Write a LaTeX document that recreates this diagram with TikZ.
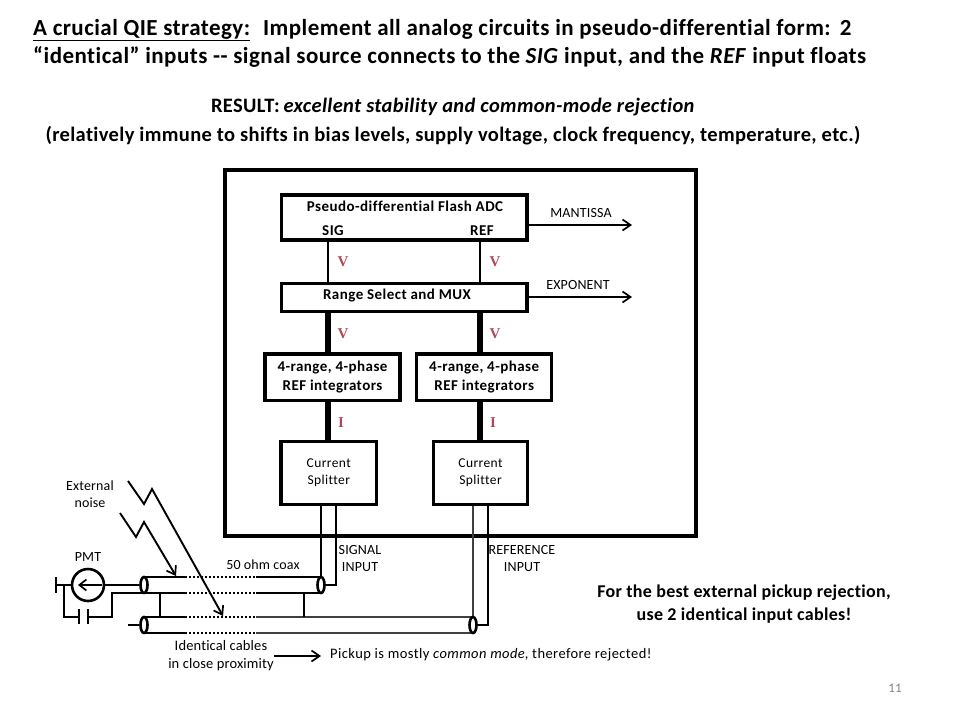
\documentclass[tikz,border=0pt]{standalone}
\usepackage{fontspec}
\setmainfont{Carlito}
\newfontfamily\vfont{Liberation Serif}
\newfontfamily\headf[LetterSpace=2,Ligatures=NoCommon]{Carlito}
\newfontfamily\resf[LetterSpace=1.7,Ligatures=NoCommon]{Carlito}
\newfontfamily\smf[LetterSpace=3,Ligatures=NoCommon]{Carlito}
\newfontfamily\labf[LetterSpace=1,Ligatures=NoCommon]{Carlito}
\usetikzlibrary{arrows.meta,shapes.geometric}
\definecolor{redv}{HTML}{B04A55}
\tikzset{
  x=1pt,y=-1pt,
  box/.style={draw=black,line width=3.2pt,fill=white,inner sep=0pt,align=center,font=\fontsize{15}{19}\selectfont\smf\bfseries},
  wire/.style={line width=2pt,draw=black},
  fatwire/.style={line width=6pt,draw=black},
  arr/.style={line width=1.9pt,draw=black,-{Straight Barb[length=8pt,width=11pt,line width=1.7pt]}},
  lab/.style={inner sep=0pt,align=center,font=\fontsize{14}{17}\selectfont\labf},
  blab/.style={inner sep=0pt,align=center,font=\fontsize{15}{19}\selectfont\smf\bfseries},
  vlab/.style={inner sep=0pt,text=redv,font=\fontsize{15}{15}\selectfont\vfont\bfseries},
  head/.style={inner sep=0pt,font=\fontsize{23}{27}\selectfont\headf\bfseries,anchor=base west},
  res/.style={inner sep=0pt,font=\fontsize{20.5}{25}\selectfont\resf\bfseries,anchor=base},
  cableend/.style={draw=black,line width=2.6pt,fill=white,ellipse,minimum width=7pt,minimum height=16pt,inner sep=0pt},
  greywire/.style={line width=2pt,draw=black!75},
  dots/.style={line width=2pt,draw=black,dash pattern=on 2pt off 2pt},
}
\begin{document}
\begin{tikzpicture}
\useasboundingbox (0,0) rectangle (960,720);
% heading
\node[head] (t1) at (33,35) {\underline{A crucial QIE strategy:}\hspace{13pt}Implement all analog circuits in pseudo-differential form:\hspace{9pt}2};
\node[head] (t2) at (33,63) {“identical” inputs -{}- signal source connects to the \textit{SIG} input, and the \textit{REF} input floats};
\node[res] (r1) at (453,112) {RESULT:\hspace{4pt}\textit{excellent stability and common-mode rejection}};
\node[res] (r2) at (453,141) {(relatively immune to shifts in bias levels, supply voltage, clock frequency, temperature, etc.)};
% outer
\node[draw=black,line width=3.6pt,minimum width=471pt,minimum height=366pt,inner sep=0pt] (outer) at (460.5,353) {};
% blocks
\node[box,minimum width=245.5pt,minimum height=45pt] (adc) at (404.2,217.5) {};
\node[blab] (adct) at (405,206) {Pseudo-differential Flash ADC};
\node[blab] (sig) at (333,231) {SIG};
\node[blab] (ref) at (482,231) {REF};
\node[box,minimum width=245.5pt,minimum height=28.5pt] (mux) at (404.2,297.5) {};
\node[blab] (muxt) at (397,295.5) {Range Select and MUX};
\node[box,minimum width=135pt,minimum height=46.8pt] (int1) at (332.5,377.3) {4-range, 4-phase\\REF integrators};
\node[box,minimum width=135pt,minimum height=46.8pt] (int2) at (484.2,377.3) {4-range, 4-phase\\REF integrators};
\node[box,minimum width=95.8pt,minimum height=62.8pt,font=\fontsize{13.5}{17}\selectfont\smf] (cs1) at (328.8,473) {Current\\Splitter};
\node[box,minimum width=94.4pt,minimum height=62.8pt,font=\fontsize{13.5}{17}\selectfont\smf] (cs2) at (480.5,473) {Current\\Splitter};
% internal links
\draw[wire] (328,241) -- (328,282);
\draw[wire] (480,241) -- (480,282);
\draw[fatwire] (328,313) -- (328,353);
\draw[fatwire] (480,313) -- (480,353);
\draw[fatwire] (328,402) -- (328,441);
\draw[fatwire] (480,402) -- (480,441);
\node[vlab] (v1) at (343,262) {V};
\node[vlab] (v2) at (495,262) {V};
\node[vlab] (v3) at (343,334) {V};
\node[vlab] (v4) at (495,334) {V};
\node[vlab] (i1) at (341,423) {I};
\node[vlab] (i2) at (493,423) {I};
% outputs
\coordinate (mo) at (632,225);
\coordinate (eo) at (632,297);
\draw[arr] (adc.east |- mo) -- (mo);
\draw[arr] (mux.east |- eo) -- (eo);
\node[lab] (man) at (581,213) {MANTISSA};
\node[lab] (exp) at (578,285) {EXPONENT};
% cables
\coordinate (c1l) at (144,585); \coordinate (c1r) at (321,585);
\coordinate (c2l) at (144,625); \coordinate (c2r) at (473,625);
\draw[wire] (144,577) -- (185,577); \draw[dots] (185,577) -- (256,577); \draw[wire] (256,577) -- (320,577);
\draw[wire] (144,593) -- (185,593); \draw[dots] (185,593) -- (256,593); \draw[wire] (256,593) -- (320,593);
\draw[wire] (144,617) -- (185,617); \draw[dots] (185,617) -- (256,617); \draw[greywire] (256,617) -- (472,617);
\draw[wire] (144,633) -- (185,633); \draw[dots] (185,633) -- (256,633); \draw[greywire] (256,633) -- (472,633);
% braids
\draw[wire] (160,593) -- (160,617);
\draw[wire] (304,593) -- (304,617);
% signal conductors
\draw[wire] (c1r |- cs1.south) -- (c1r);
\draw[wire] (336,505) |- (c1r);
\draw[greywire] (c2r |- cs2.south) -- (c2r);
\draw[wire] (488,505) |- (c2r);
\node[cableend] (e1l) at (c1l) {};
\node[cableend] (e1r) at (c1r) {};
\node[cableend] (e2l) at (c2l) {};
\node[cableend] (e2r) at (c2r) {};
\coordinate (stub) at (128,625);
\draw[wire] (stub) -- (e2l);
% PMT
\node[draw=black,line width=2.6pt,circle,minimum size=32pt,inner sep=0pt] (pmt) at (88,585) {};
\draw[line width=1.8pt,-{Straight Barb[length=7pt,width=11pt,line width=1.7pt]}] (102,585) -- (78,585);
\draw[wire] (pmt.east) -- (e1l);
\coordinate (bar) at (56,585);
\draw[wire] (pmt.west) -- (bar);
\draw[wire] (56,577) -- (56,593);
\draw[wire] (64,585) -- (64,617) -- (79,617);
\draw[wire] (79,609) -- (79,624);
\draw[wire] (88,609) -- (88,624);
\draw[wire] (88,617) -- (112,617) -- (112,593) -- (144,593);
% noise bolts
\draw[arr,line join=miter] (128,481) -- (144,504) -- (152,489) -- (223,616);
\draw[arr,line join=miter] (120,513) -- (136,537) -- (144,522) -- (176,576);
% labels
\node[lab] (en) at (90,494) {External\\noise};
\node[lab] (pl) at (88,557) {PMT};
\node[lab] (cx) at (263,565) {50 ohm coax};
\node[lab] (si) at (360,558) {SIGNAL\\INPUT};
\node[lab] (ri) at (522,558) {REFERENCE\\INPUT};
\node[inner sep=0pt,align=center,font=\fontsize{14.5}{18}\selectfont\labf] (ic) at (221,655.5) {Identical cables\\in close proximity};
\node[inner sep=0pt,anchor=west,font=\fontsize{14.5}{18}\selectfont\smf] (pk) at (330,654.5) {Pickup is mostly \textit{common mode}, therefore rejected!};
\coordinate (pa) at ([xshift=-9pt,yshift=-1.5pt]pk.west);
\draw[arr] (ic.east |- pa) -- (pa);
\node[inner sep=0pt,align=center,font=\fontsize{18}{23}\selectfont\resf\bfseries] (best) at (744,604) {For the best external pickup rejection,\\use 2 identical input cables!};
\node[inner sep=0pt,text=black!50,font=\fontsize{13}{13}\selectfont] (pg) at (895,688) {11};
\end{tikzpicture}
\end{document}
